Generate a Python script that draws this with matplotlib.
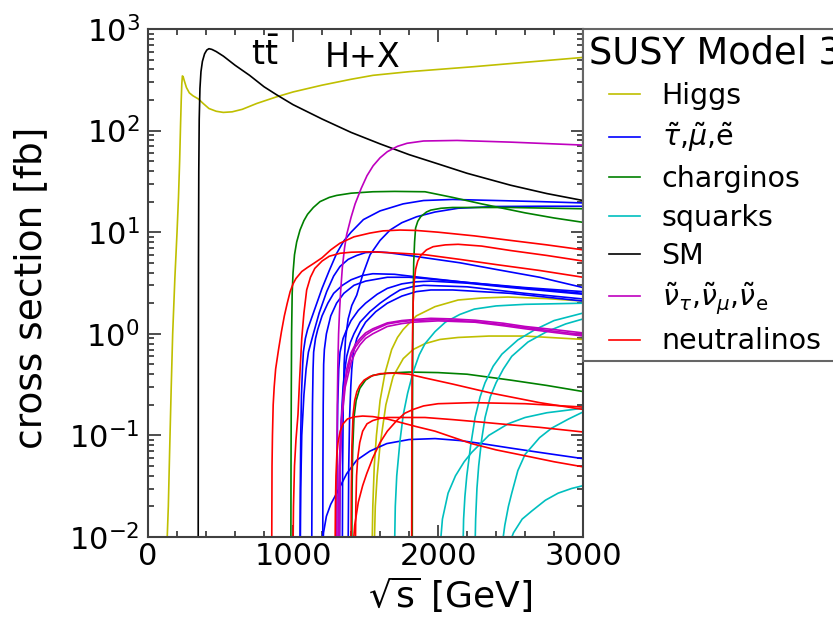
import matplotlib
matplotlib.use("Agg")
import matplotlib.pyplot as plt

# ---------------- data ----------------
# SM: t tbar
sm_tt_x = [346, 347, 348, 350, 353, 358, 365, 375, 390, 405, 420, 440, 470, 520, 600, 700, 800, 887,
           1000, 1200, 1400, 1600, 1800, 2000, 2200, 2500, 2750, 3000]
sm_tt_y = [0.008, 0.5, 5, 40, 130, 260, 380, 480, 570, 620, 640, 630, 600, 540, 440, 350, 270, 225,
           180, 130, 96, 74, 58, 47, 38, 29, 24, 20.5]

# Higgs
higgs1_x = [130, 140, 150, 160, 170, 185, 200, 210, 218, 224, 229, 233, 237, 242, 250, 265, 285, 310,
            347, 380, 420, 470, 519, 580, 650, 750, 887, 1000, 1200, 1400, 1552, 1800, 2241, 2600, 3000]
higgs1_y = [0.008, 0.02, 0.08, 0.3, 1, 3.5, 10, 22, 50, 110, 200, 290, 345, 340, 310, 265, 235, 220,
            205, 185, 165, 155, 151, 153, 162, 185, 215, 240, 280, 320, 350, 380, 425, 470, 525]
higgs2_x = [1545, 1550, 1560, 1575, 1600, 1634, 1680, 1720, 1759, 1850, 1979, 2138, 2300, 2483, 2750, 3000]
higgs2_y = [0.008, 0.02, 0.05, 0.1, 0.22, 0.41, 0.7, 0.92, 1.1, 1.5, 1.85, 2.15, 2.25, 2.3, 2.22, 2.1]
higgs3_x = [1560, 1567, 1580, 1600, 1640, 1690, 1760, 1828, 1910, 2014, 2138, 2350, 2600, 3000]
higgs3_y = [0.008, 0.02, 0.04, 0.08, 0.2, 0.38, 0.57, 0.7, 0.8, 0.88, 0.92, 0.95, 0.95, 0.88]

# sleptons
slep1_x = [1048, 1050, 1053, 1058, 1065, 1071, 1085, 1100, 1140, 1200, 1250, 1301, 1350, 1400, 1485,
           1600, 1759, 1900, 2100, 2400, 2700, 3000]
slep1_y = [0.008, 0.03, 0.1, 0.25, 0.45, 0.66, 0.9, 1.1, 1.6, 2.8, 4.2, 6.2, 8.2, 10, 13.3,
           16.2, 19, 20.5, 21, 20.5, 20, 19.4]
slep2_x = [1050, 1053, 1060, 1075, 1090, 1106, 1140, 1180, 1232, 1280, 1324, 1380, 1439, 1500, 1580,
           1650, 1800, 1910, 2150, 2400, 2700, 3000]
slep2_y = [0.008, 0.03, 0.1, 0.25, 0.45, 0.66, 1.0, 1.6, 2.6, 3.7, 4.6, 5.4, 5.9, 6.3, 6.4,
           6.3, 5.9, 5.6, 5.0, 4.3, 3.6, 2.85]
slep3_x = [1129, 1131, 1134, 1138, 1142, 1155, 1170, 1200, 1240, 1280, 1340, 1400, 1480, 1550, 1700,
           1910, 2200, 2600, 3000]
slep3_y = [0.008, 0.05, 0.2, 0.45, 0.66, 0.9, 1.1, 1.5, 2.0, 2.5, 3.0, 3.4, 3.75, 3.9, 3.85,
           3.55, 3.2, 2.85, 2.6]
slep4_x = [1205, 1206, 1208, 1211, 1216, 1230, 1260, 1300, 1350, 1420, 1500, 1650, 1800, 1910, 2200,
           2500, 3000]
slep4_y = [0.008, 0.05, 0.2, 0.5, 0.7, 1.0, 1.5, 2.0, 2.5, 3.0, 3.3, 3.6, 3.6, 3.5, 3.2, 2.9, 2.5]
slep5_x = [1340, 1342, 1346, 1352, 1362, 1380, 1405, 1439, 1480, 1531, 1600, 1669, 1750, 1853, 1979,
           2138, 2400, 2700, 3000]
slep5_y = [0.008, 0.05, 0.2, 0.5, 0.9, 1.4, 1.9, 2.4, 3.8, 6.0, 8.3, 10.5, 12.4, 14.2, 15.8,
           17.2, 17.9, 18, 18]
slep6_x = [1300, 1303, 1308, 1315, 1324, 1345, 1370, 1400, 1450, 1500, 1580, 1650, 1750, 1850, 1950,
           2200, 2500, 3000]
slep6_y = [0.008, 0.05, 0.2, 0.45, 0.66, 0.9, 1.1, 1.35, 1.7, 2.0, 2.45, 2.8, 3.1, 3.25, 3.3,
           3.15, 2.85, 2.45]
slep7_x = [1320, 1325, 1331, 1336, 1345, 1358, 1370, 1395, 1420, 1462, 1530, 1600, 1670, 1738, 1820,
           1900, 2200, 2600, 3000]
slep7_y = [0.008, 0.05, 0.12, 0.18, 0.3, 0.45, 0.6, 0.82, 1.0, 1.3, 1.65, 2.0, 2.35, 2.7, 2.9,
           3.0, 2.9, 2.5, 2.2]
slep8_x = [1380, 1384, 1390, 1398, 1405, 1416, 1440, 1470, 1500, 1570, 1650, 1750, 1850, 1950, 2100,
           2500, 3000]
slep8_y = [0.008, 0.05, 0.15, 0.3, 0.45, 0.66, 0.9, 1.1, 1.3, 1.65, 2.0, 2.35, 2.6, 2.7, 2.7, 2.5, 2.1]
slep9_x = [1205, 1210, 1230, 1260, 1301, 1370, 1439, 1530, 1646, 1800, 1979, 2150, 2300, 2500, 2700, 3000]
slep9_y = [0.008, 0.011, 0.016, 0.021, 0.027, 0.042, 0.057, 0.07, 0.083, 0.091, 0.093, 0.089,
           0.083, 0.075, 0.068, 0.059]

# charginos
char1_x = [985, 986, 988, 990, 994, 1000, 1010, 1025, 1048, 1075, 1100, 1140, 1186, 1250, 1300, 1400,
           1550, 1700, 1910, 2100, 2300, 2600, 2800, 3000]
char1_y = [0.008, 0.05, 0.3, 1, 2.5, 4, 6, 8, 10.5, 13, 15, 17.5, 20, 22, 23, 24.2,
           25, 25.2, 25, 22, 19, 15.5, 13.8, 12.5]
char2_x = [1822, 1823, 1825, 1828, 1832, 1838, 1845, 1860, 1880, 1920, 1950, 2020, 2100, 2500, 3000]
char2_y = [0.008, 0.1, 0.6, 2, 5, 8, 11, 12.8, 14.2, 15.8, 16.5, 17.2, 17.5, 17.5, 17]
char3_x = [1405, 1407, 1411, 1420, 1435, 1460, 1500, 1550, 1650, 1800, 2000, 2200, 2500, 2750, 3000]
char3_y = [0.008, 0.03, 0.07, 0.15, 0.22, 0.29, 0.35, 0.39, 0.41, 0.42, 0.415, 0.4, 0.35, 0.31, 0.27]

# squarks
sq1_x = [1700, 1705, 1715, 1738, 1760, 1790, 1828, 1870, 1910, 1979, 2050, 2150, 2250, 2400, 2600, 3000]
sq1_y = [0.008, 0.02, 0.04, 0.09, 0.16, 0.26, 0.42, 0.62, 0.8, 1.05, 1.3, 1.55, 1.75, 1.88, 1.95, 2.0]
sq2_x = [2172, 2176, 2185, 2198, 2225, 2255, 2290, 2324, 2380, 2440, 2550, 2669, 2800, 3000]
sq2_y = [0.008, 0.015, 0.025, 0.04, 0.08, 0.15, 0.24, 0.33, 0.48, 0.63, 0.87, 1.1, 1.35, 1.6]
sq3_x = [2255, 2259, 2268, 2280, 2300, 2324, 2360, 2400, 2450, 2508, 2620, 2750, 2880, 3000]
sq3_y = [0.008, 0.015, 0.03, 0.05, 0.09, 0.15, 0.24, 0.33, 0.45, 0.6, 0.83, 1.05, 1.25, 1.4]
sq4_x = [2014, 2030, 2069, 2120, 2180, 2232, 2350, 2483, 2600, 2750, 3000]
sq4_y = [0.008, 0.015, 0.027, 0.04, 0.055, 0.068, 0.1, 0.13, 0.15, 0.167, 0.185]
sq5_x = [2440, 2460, 2485, 2508, 2550, 2600, 2700, 2784, 2900, 3000]
sq5_y = [0.008, 0.013, 0.02, 0.027, 0.045, 0.065, 0.095, 0.118, 0.145, 0.17]
sq6_x = [2483, 2520, 2580, 2646, 2740, 2828, 2920, 3000]
sq6_y = [0.008, 0.011, 0.015, 0.018, 0.023, 0.027, 0.03, 0.032]

# sneutrinos
snu1_x = [1300, 1302, 1305, 1309, 1314, 1320, 1328, 1340, 1355, 1370, 1400, 1428, 1470, 1510, 1552,
          1600, 1650, 1720, 1786, 1900, 2131, 2500, 3000]
snu1_y = [0.008, 0.05, 0.2, 0.5, 1, 1.6, 2.6, 4.5, 7, 9.5, 14, 19, 27, 36, 45,
          54, 62, 70, 75, 79, 80, 77, 72]
snu2_x = [1320, 1325, 1336, 1350, 1370, 1400, 1430, 1462, 1500, 1550, 1650, 1750, 1828, 1950, 2100,
          2255, 2450, 2600, 2800, 3000]
snu2_y = [0.008, 0.05, 0.16, 0.28, 0.45, 0.65, 0.79, 0.9, 1.02, 1.12, 1.28, 1.35, 1.38, 1.42, 1.4,
          1.36, 1.27, 1.18, 1.1, 1.02]
snu3_x = [1315, 1322, 1333, 1360, 1400, 1430, 1462, 1500, 1550, 1650, 1750, 1828, 2000, 2255, 2450,
          2600, 2800, 3000]
snu3_y = [0.008, 0.05, 0.14, 0.35, 0.6, 0.74, 0.85, 0.97, 1.08, 1.25, 1.32, 1.35, 1.38, 1.32, 1.23,
          1.15, 1.06, 0.98]
snu4_x = [1310, 1318, 1330, 1360, 1400, 1430, 1462, 1500, 1550, 1650, 1750, 1828, 2000, 2255, 2450,
          2600, 2800, 3000]
snu4_y = [0.008, 0.05, 0.12, 0.3, 0.52, 0.66, 0.78, 0.9, 1.0, 1.18, 1.26, 1.3, 1.34, 1.3, 1.2,
          1.12, 1.03, 0.95]

# neutralinos
neu1_x = [853, 855, 858, 863, 870, 880, 900, 920, 940, 960, 980, 1000, 1020, 1060, 1100, 1140, 1200,
          1260, 1324, 1420, 1530, 1620, 1738, 1850, 2000, 2250, 2500, 2750, 3000]
neu1_y = [0.008, 0.05, 0.1, 0.2, 0.3, 0.45, 0.7, 1.05, 1.5, 2.0, 2.6, 3.1, 3.5, 4.1, 4.5, 4.9, 5.6,
          6.7, 7.8, 9.0, 9.8, 10.3, 10.5, 10.4, 10, 9.2, 8.3, 7.5, 6.7]
neu2_x = [1000, 1003, 1010, 1020, 1034, 1045, 1060, 1075, 1094, 1120, 1150, 1200, 1250, 1324, 1400,
          1485, 1552, 1700, 1910, 2150, 2400, 2700, 3000]
neu2_y = [0.008, 0.02, 0.05, 0.09, 0.16, 0.35, 0.9, 1.6, 2.7, 3.6, 4.4, 5.2, 5.8, 6.2, 6.35,
          6.4, 6.4, 6.25, 6.0, 5.4, 4.8, 4.2, 3.6]
neu3_x = [1818, 1819, 1821, 1824, 1828, 1835, 1845, 1860, 1880, 1920, 1966, 2050, 2138, 2300, 2500,
          2750, 3000]
neu3_y = [0.008, 0.1, 0.4, 1, 2, 3.2, 4.3, 5.2, 5.9, 6.7, 7.2, 7.5, 7.6, 7.3, 6.6, 5.9, 5.2]
neu4_x = [1400, 1402, 1406, 1414, 1425, 1440, 1460, 1490, 1531, 1600, 1700, 1800, 1900, 2100, 2370,
          2700, 3000]
neu4_y = [0.008, 0.03, 0.08, 0.16, 0.22, 0.27, 0.31, 0.35, 0.38, 0.405, 0.41, 0.4, 0.37, 0.32, 0.26,
          0.21, 0.18]
neu5_x = [1414, 1425, 1450, 1480, 1508, 1550, 1600, 1650, 1715, 1770, 1828, 1900, 2000, 2241, 2600, 3000]
neu5_y = [0.008, 0.013, 0.022, 0.032, 0.042, 0.06, 0.085, 0.11, 0.14, 0.165, 0.18, 0.195, 0.205,
          0.21, 0.205, 0.19]
neu6_x = [1430, 1433, 1438, 1446, 1460, 1480, 1510, 1550, 1600, 1650, 1800, 1910, 2100, 2300, 2500,
          2700, 3000]
neu6_y = [0.008, 0.02, 0.04, 0.06, 0.085, 0.11, 0.13, 0.14, 0.147, 0.15, 0.15, 0.15, 0.143, 0.135,
          0.127, 0.12, 0.108]
neu7_x = [1290, 1292, 1296, 1302, 1310, 1325, 1345, 1375, 1420, 1480, 1550, 1650, 1750, 1850, 1979,
          2100, 2231, 2400, 2600, 2800, 3000]
neu7_y = [0.008, 0.02, 0.04, 0.065, 0.085, 0.11, 0.13, 0.145, 0.152, 0.155, 0.153, 0.145, 0.133,
          0.122, 0.11, 0.096, 0.083, 0.072, 0.063, 0.055, 0.049]

legend_labels = ["Higgs", r"$\tilde{\tau}$,$\tilde{\mu}$,$\tilde{\mathrm{e}}$", "charginos",
                 "squarks", "SM", r"$\tilde{\nu}_\tau$,$\tilde{\nu}_\mu$,$\tilde{\nu}_\mathrm{e}$",
                 "neutralinos"]
legend_title = "SUSY Model 3"

# ---------------- plotting ----------------
colors = {"Higgs": (0.75, 0.75, 0.0), "slep": (0.0, 0.0, 1.0), "char": (0.0, 0.5, 0.0),
          "sq": (0.0, 0.75, 0.75), "SM": (0.0, 0.0, 0.0), "snu": (0.75, 0.0, 0.75),
          "neu": (1.0, 0.0, 0.0)}

groups = [
    ("Higgs", [(higgs1_x, higgs1_y), (higgs2_x, higgs2_y), (higgs3_x, higgs3_y)]),
    ("slep", [(slep1_x, slep1_y), (slep2_x, slep2_y), (slep3_x, slep3_y), (slep4_x, slep4_y),
              (slep5_x, slep5_y), (slep6_x, slep6_y), (slep7_x, slep7_y), (slep8_x, slep8_y),
              (slep9_x, slep9_y)]),
    ("char", [(char1_x, char1_y), (char2_x, char2_y), (char3_x, char3_y)]),
    ("sq", [(sq1_x, sq1_y), (sq2_x, sq2_y), (sq3_x, sq3_y), (sq4_x, sq4_y), (sq5_x, sq5_y),
            (sq6_x, sq6_y)]),
    ("SM", [(sm_tt_x, sm_tt_y)]),
    ("snu", [(snu1_x, snu1_y), (snu2_x, snu2_y), (snu3_x, snu3_y), (snu4_x, snu4_y)]),
    ("neu", [(neu1_x, neu1_y), (neu2_x, neu2_y), (neu3_x, neu3_y), (neu4_x, neu4_y),
             (neu5_x, neu5_y), (neu6_x, neu6_y), (neu7_x, neu7_y)]),
]

fig = plt.figure(figsize=(8.33, 6.17), dpi=100)
ax = fig.add_axes([0.1777, 0.1297, 0.5223, 0.8233])

handles = []
for (key, curves), lab in zip(groups, legend_labels):
    for i, (xs, ys) in enumerate(curves):
        ln, = ax.plot(xs, ys, color=colors[key], lw=1.2)
        if i == 0:
            handles.append(ln)

ax.set_yscale("log")
ax.set_xlim(0, 3000)
ax.set_ylim(1e-2, 1e3)
ax.set_xticks([0, 1000, 2000, 3000])
ax.set_xticks(range(0, 3001, 200), minor=True)
ax.tick_params(which="both", direction="in", top=True, right=True, labelsize=22, width=1.3,
               color="0.25")
ax.tick_params(which="major", length=9)
ax.tick_params(which="minor", length=4.5)
ax.tick_params(axis="y", which="major", pad=6)
for sp in ax.spines.values():
    sp.set_linewidth(1.5)
    sp.set_color("0.25")

ax.set_xlabel(r"$\sqrt{\mathrm{s}}$ [GeV]", fontsize=26)
ax.xaxis.set_label_coords(0.694, -0.074)
ax.set_ylabel("cross section [fb]", fontsize=27)
ax.yaxis.set_label_coords(-0.228, 0.49)

ax.text(807, 560, r"$\mathrm{t\bar{t}}$", fontsize=24, ha="center", va="center")
ax.text(1483, 530, "H+X", fontsize=24, ha="center", va="center")

leg = ax.legend(handles, legend_labels, title=legend_title, loc="upper left",
                bbox_to_anchor=(1.0, 1.0), borderaxespad=0.0, fontsize=20.5,
                title_fontsize=26.5, frameon=True, fancybox=False, framealpha=1.0,
                handlelength=1.1, handletextpad=0.75, labelspacing=0.37, borderpad=0.2)
leg.get_frame().set_edgecolor("0.4")
leg.get_frame().set_linewidth(1.5)

fig.savefig("out.png", dpi=100)
